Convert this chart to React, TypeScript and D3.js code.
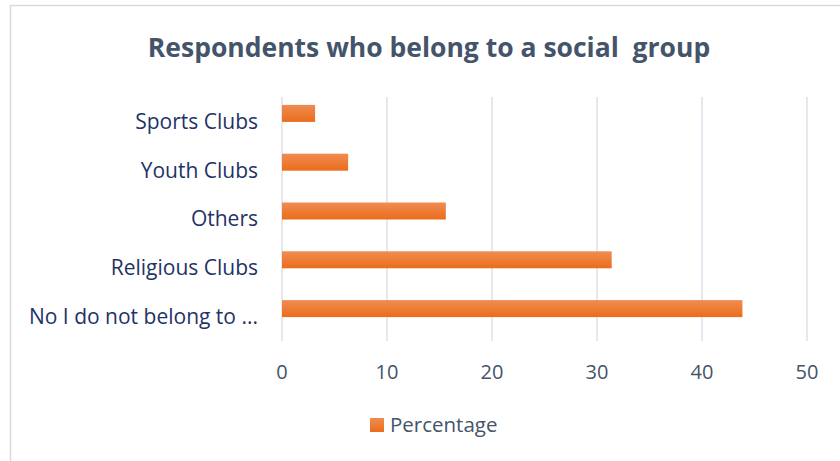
import React from "react";
import * as d3 from "d3";

const categories = ["Sports Clubs", "Youth Clubs", "Others", "Religious Clubs", "No I do not belong to ..."];
const percentages = [3.15, 6.3, 15.6, 31.4, 43.85];
const xTicks = [0, 10, 20, 30, 40, 50];
const seriesName = "Percentage";
const title = "Respondents who belong to a social  group";

export default function App() {
  const W = 840, H = 461;
  const x = d3.scaleLinear().domain([0, 50]).range([282, 807]);
  const y = d3.scaleBand<string>().domain(categories).range([97, 341]).paddingInner(0.65).paddingOuter(0.325);
  const barH = 17;
  const barShift = -8;
  const font = "'Open Sans', sans-serif";
  return (
    <svg width={W} height={H} style={{ position: "absolute", left: 0, top: 0, background: "#fff" }}>
      <defs>
        <linearGradient id="barGrad" x1="0" y1="0" x2="0" y2="1">
          <stop offset="0" stopColor="#F08C52" />
          <stop offset="1" stopColor="#EA6D1B" />
        </linearGradient>
      </defs>
      <rect x={0} y={0} width={W} height={H} fill="#fff" />
      <path d="M10.5,461 L10.5,5.5 L840,5.5" fill="none" stroke="#D9D9D9" strokeWidth={1.5} />
      <text x={429} y={57} textAnchor="middle" fontFamily={font} fontWeight={700} fontSize={26.5} fill="#44546A" style={{ whiteSpace: "pre" }}>
        {title}
      </text>
      {xTicks.map((t) => (
        <line key={"g" + t} x1={x(t)} x2={x(t)} y1={97} y2={341} stroke="#DDE2EA" strokeWidth={1.5} />
      ))}
      {categories.map((c, i) => {
        const cy = (y(c) as number) + y.bandwidth() / 2;
        return (
          <g key={c}>
            <rect x={x(0)} y={cy - barH / 2 + barShift} width={x(percentages[i]) - x(0)} height={barH} fill="url(#barGrad)" />
            <text x={258} y={cy} dy="0.35em" textAnchor="end" fontFamily={font} fontSize={21} fill="#1F3366">
              {c}
            </text>
          </g>
        );
      })}
      {xTicks.map((t) => (
        <text key={"t" + t} x={x(t)} y={379} textAnchor="middle" fontFamily={font} fontSize={20} fill="#44546A">
          {t}
        </text>
      ))}
      <rect x={370} y={418} width={14} height={14} fill="url(#barGrad)" />
      <text x={390} y={432} fontFamily={font} fontSize={20.5} fill="#44546A">
        {seriesName}
      </text>
    </svg>
  );
}
